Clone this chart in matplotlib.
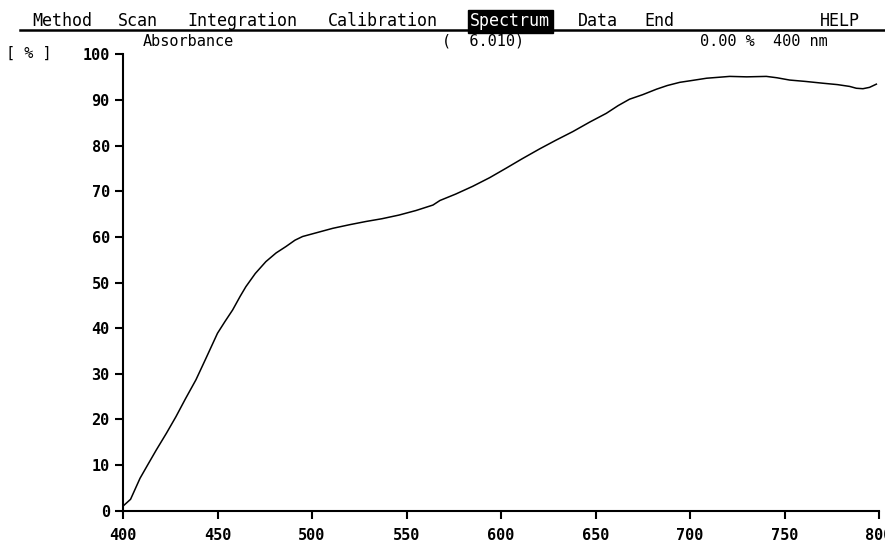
import matplotlib
matplotlib.use("Agg")
import matplotlib.pyplot as plt

# wavelength [nm] and absorbance [%]
wavelength = [400, 404, 409, 413, 417.6, 423, 428, 433, 438.6, 444, 450, 454, 458, 462, 465,
              470, 475.6, 481, 486.2, 491, 495, 503, 511, 520, 528.6, 537, 546, 555, 564,
              567.7, 576, 585, 594, 602.8, 611, 620.4, 629, 638, 647, 655.7, 662, 668,
              675, 682.3, 688, 694.6, 701, 708.8, 715, 721, 730, 740.4, 746, 752.7, 761,
              770.4, 778, 784.5, 788, 791.5, 795, 798.6]
absorbance = [1.0, 2.5, 7.1, 10.0, 13.3, 17.0, 20.6, 24.5, 28.7, 33.5, 38.9, 41.5, 44.0, 47.0, 49.1,
              52.0, 54.6, 56.5, 57.9, 59.3, 60.1, 61.0, 61.9, 62.7, 63.4, 64.0, 64.8, 65.8, 67.0,
              68.0, 69.4, 71.1, 73.0, 75.1, 77.1, 79.3, 81.2, 83.1, 85.2, 87.1, 88.8, 90.2,
              91.2, 92.4, 93.2, 93.9, 94.3, 94.8, 95.0, 95.2, 95.1, 95.2, 94.9, 94.4, 94.1,
              93.7, 93.4, 93.0, 92.6, 92.5, 92.8, 93.5]

x_ticks = [400, 450, 500, 550, 600, 650, 700, 750, 800]
y_ticks = [0, 10, 20, 30, 40, 50, 60, 70, 80, 90, 100]

menu_items = ["Method", "Scan", "Integration", "Calibration", "Spectrum", "Data", "End", "HELP"]
menu_x = [32, 118, 187, 328, 470, 578, 644, 820]

W, H = 885, 546
MONO = "DejaVu Sans Mono"

fig = plt.figure(figsize=(W / 100, H / 100), dpi=100)
ax = fig.add_axes([123 / W, 1 - 510.7 / H, (879 - 123) / W, (510.7 - 54.5) / H])

ax.plot(wavelength, absorbance, color="black", linewidth=1.1)
ax.set_xlim(400, 800)
ax.set_ylim(0, 100)
ax.set_xticks(x_ticks)
ax.set_yticks(y_ticks)

for s in ["top", "right"]:
    ax.spines[s].set_visible(False)
for s in ["left", "bottom"]:
    ax.spines[s].set_linewidth(1.5)
ax.tick_params(direction="out", length=5.5, width=1.5, labelsize=11, pad=4)
ax.tick_params(axis="x", pad=7)
for lab in ax.get_xticklabels() + ax.get_yticklabels():
    lab.set_family(MONO)
    lab.set_fontweight("bold")


def px(x, y):
    return x / W, 1 - y / H


# menu bar
for name, x in zip(menu_items, menu_x):
    kw = dict(family=MONO, fontsize=12, va="baseline", ha="left")
    if name == "Spectrum":
        kw["color"] = "white"
        kw["bbox"] = dict(boxstyle="square,pad=0.15", facecolor="black", edgecolor="black")
    fig.text(*px(x, 26), name, **kw)
fig.add_artist(plt.Line2D([20 / W, 1.0], [1 - 30 / H] * 2, color="black", linewidth=1.8))

# status line
fig.text(*px(143, 46), "Absorbance", family=MONO, fontsize=11, va="baseline")
fig.text(*px(442, 46), "(  6.010)", family=MONO, fontsize=11, va="baseline")
fig.text(*px(700, 46), "0.00 %  400 nm", family=MONO, fontsize=11, va="baseline")
fig.text(*px(6, 58), "[ % ]", family=MONO, fontsize=11, va="baseline")

fig.savefig("out.png", dpi=100, facecolor="white")
